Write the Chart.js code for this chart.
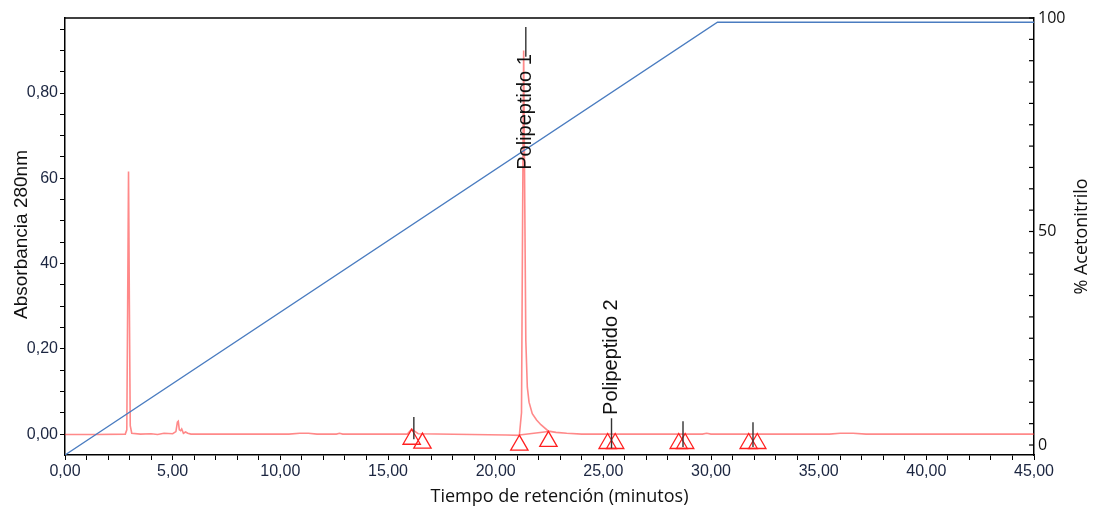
<!DOCTYPE html>
<html>
<head>
<meta charset="utf-8">
<script src="https://cdn.jsdelivr.net/npm/chart.js@4/dist/chart.umd.min.js"></script>
<style>
  body { margin: 0; background: #fff; }
  #wrap { width: 1095px; height: 511px; position: relative; }
</style>
</head>
<body>
<div id="wrap"><canvas id="chrom"></canvas></div>
<script>
// acetonitrile gradient (% , right axis)
var gradientTimes = [0, 30.3, 45];
var gradientValues = [-2.34, 99, 99];

// absorbance trace at 280 nm (left axis)
var absTimes = [0, 1.5, 2.8, 2.87, 2.91, 2.95, 2.99, 3.03, 3.1, 3.5, 4.0, 4.3, 4.6, 5.0, 5.15, 5.22, 5.26, 5.31, 5.37, 5.42, 5.5, 5.6, 5.7, 5.85, 6.2,
  10.4, 10.9, 11.3, 11.7, 12.6, 12.75, 12.9, 15.9, 16.1, 16.2, 16.4, 20.5, 21.1, 21.2, 21.25, 21.3, 21.35, 21.4, 21.47, 21.55, 21.7, 21.9, 22.1,
  22.45, 22.8, 23.3, 24.0, 29.6, 29.8, 30.0, 35.5, 36.0, 36.6, 37.2, 45];
var absValues = [-0.001, -0.001, 0.0, 0.01, 0.3, 0.616, 0.3, 0.02, 0.002, 0.0, 0.001, -0.001, 0.002, 0.001, 0.006, 0.028, 0.03, 0.01, 0.008, 0.012, 0.002, 0.005, 0.002, 0.0, 0.0,
  0.0, 0.002, 0.002, 0.0, 0.0, 0.002, 0.0, 0.0, 0.012, 0.008, 0.001, -0.002, -0.003, 0.05, 0.5, 0.9, 0.55, 0.22, 0.11, 0.075, 0.048, 0.033, 0.022,
  0.007, 0.004, 0.002, 0.0, 0.0, 0.002, 0.0, 0.0, 0.002, 0.002, 0.0, 0.0];

// integration baseline between peak marks
var baseTimes = [21.1, 22.45];
var baseValues = [-0.002, 0.006];

// peak start / end triangles
var triTimes = [16.1, 16.6, 21.1, 22.45, 25.2, 25.55, 28.5, 28.8, 31.75, 32.15];
var triValues = [-0.012, -0.021, -0.026, -0.017, -0.022, -0.022, -0.022, -0.022, -0.022, -0.022];

// apex marks (black)
var markTimes = [16.2, 21.4, 25.38, 28.7, 31.95];
var markTops = [0.04, 0.955, 0.037, 0.03, 0.028];
var markBottoms = [-0.012, 0.885, -0.033, -0.03, -0.03];

// peak names
var peakNames = ['Polipeptido 1', 'Polipeptido 2'];
var peakNameTimes = [21.4, 25.38];
var peakNameStarts = [0.62, 0.045];

// tick labels
var xTickValues = [0, 5, 10, 15, 20, 25, 30, 35, 40, 45];
var xTickLabels = ['0,00', '5,00', '10,00', '15,00', '20,00', '25,00', '30,00', '35,00', '40,00', '45,00'];
var yTickValues = [0, 0.2, 0.4, 0.6, 0.8];
var yTickLabels = ['0,00', '0,20', '40', '60', '0,80'];
var y2TickValues = [0, 50, 100];
var y2TickLabels = ['0', '50', '100'];

function pts(xs, ys) {
  var out = [];
  for (var i = 0; i < xs.length; i++) out.push({x: xs[i], y: ys[i]});
  return out;
}
function findLabel(vals, labels, v) {
  for (var i = 0; i < vals.length; i++) {
    if (Math.abs(vals[i] - v) < 1e-6) return labels[i];
  }
  return '';
}

var markData = [];
for (var i = 0; i < markTimes.length; i++) {
  markData.push({x: markTimes[i], y: markTops[i]});
  markData.push({x: markTimes[i], y: markBottoms[i]});
  markData.push({x: markTimes[i], y: null});
}

var red = 'rgba(255,40,40,0.55)';

var extras = {
  id: 'extras',
  afterDraw: function(chart) {
    var ctx = chart.ctx, a = chart.chartArea;
    var xs = chart.scales.x, ys = chart.scales.y, y2 = chart.scales.y2;
    ctx.save();
    // top frame line
    ctx.strokeStyle = '#000';
    ctx.lineWidth = 1.5;
    ctx.beginPath();
    ctx.moveTo(a.left, a.top);
    ctx.lineTo(a.right, a.top);
    ctx.stroke();
    // inward ticks on right axis
    ctx.lineWidth = 1.2;
    y2.ticks.forEach(function(t) {
      var py = y2.getPixelForValue(t.value);
      ctx.beginPath();
      ctx.moveTo(a.right - 5, py);
      ctx.lineTo(a.right, py);
      ctx.stroke();
    });
    // peak names
    ctx.fillStyle = '#111';
    ctx.font = '20px "Liberation Sans", Arial, sans-serif';
    ctx.textAlign = 'left';
    ctx.textBaseline = 'middle';
    for (var i = 0; i < peakNames.length; i++) {
      ctx.save();
      ctx.translate(xs.getPixelForValue(peakNameTimes[i]), ys.getPixelForValue(peakNameStarts[i]));
      ctx.rotate(-Math.PI / 2);
      ctx.fillText(peakNames[i], 0, 0);
      ctx.restore();
    }
    // axis titles
    var midY = (a.top + a.bottom) / 2;
    ctx.textAlign = 'center';
    ctx.font = '19px "Liberation Sans", Arial, sans-serif';
    ctx.save();
    ctx.translate(a.left - 43, midY - 2);
    ctx.rotate(-Math.PI / 2);
    ctx.fillText('Absorbancia 280nm', 0, 0);
    ctx.restore();
    ctx.font = '18px "Open Sans", sans-serif';
    ctx.save();
    ctx.translate(a.right + 48, midY);
    ctx.rotate(-Math.PI / 2);
    ctx.fillText('% Acetonitrilo', 0, 0);
    ctx.restore();
    ctx.fillText('Tiempo de retención (minutos)', (a.left + a.right) / 2 + 10, a.bottom + 42);
    ctx.restore();
  }
};

new Chart(document.getElementById('chrom'), {
  type: 'line',
  data: {
    datasets: [
      {
        label: 'Acetonitrilo',
        data: pts(gradientTimes, gradientValues),
        yAxisID: 'y2',
        borderColor: '#4a7cc0',
        borderWidth: 1.3,
        pointRadius: 0,
        tension: 0
      },
      {
        label: 'Marcas',
        data: markData,
        yAxisID: 'y',
        borderColor: '#333',
        borderWidth: 1.4,
        pointRadius: 0,
        spanGaps: false
      },
      {
        label: 'Picos',
        data: pts(triTimes, triValues),
        yAxisID: 'y',
        showLine: false,
        pointStyle: 'triangle',
        pointRadius: 10,
        pointBorderColor: '#ff2020',
        pointBackgroundColor: 'rgba(0,0,0,0)',
        pointBorderWidth: 1.3
      },
      {
        label: 'Linea base',
        data: pts(baseTimes, baseValues),
        yAxisID: 'y',
        borderColor: red,
        borderWidth: 1.5,
        pointRadius: 0
      },
      {
        label: 'Absorbancia',
        data: pts(absTimes, absValues),
        yAxisID: 'y',
        borderColor: red,
        borderWidth: 1.6,
        pointRadius: 0,
        tension: 0
      }
    ]
  },
  options: {
    responsive: true,
    maintainAspectRatio: false,
    animation: false,
    layout: { padding: { top: 18, left: 0, right: 0, bottom: 0 } },
    plugins: { legend: { display: false }, tooltip: { enabled: false } },
    scales: {
      x: {
        type: 'linear',
        min: 0,
        max: 45,
        afterFit: function(s) { s.height = 56; },
        border: { color: '#000', width: 1.5 },
        grid: { drawOnChartArea: false, color: '#000', tickLength: 5 },
        ticks: {
          stepSize: 1,
          autoSkip: false,
          maxRotation: 0,
          padding: 2,
          color: '#1b2540',
          font: { family: '"Liberation Sans", Arial, sans-serif', size: 16 },
          callback: function(v) { return findLabel(xTickValues, xTickLabels, v); }
        }
      },
      y: {
        type: 'linear',
        position: 'left',
        min: -0.049,
        max: 0.976,
        afterFit: function(s) { s.width = 65; },
        border: { color: '#000', width: 1.5 },
        grid: { drawOnChartArea: false, color: '#000', tickLength: 5 },
        ticks: {
          stepSize: 0.05,
          includeBounds: false,
          autoSkip: false,
          padding: 2,
          color: '#1b2540',
          font: { family: '"Liberation Sans", Arial, sans-serif', size: 16 },
          callback: function(v) { return findLabel(yTickValues, yTickLabels, v); }
        }
      },
      y2: {
        type: 'linear',
        position: 'right',
        min: -2.34,
        max: 100,
        afterFit: function(s) { s.width = 61; },
        border: { color: '#000', width: 1.5 },
        grid: { drawOnChartArea: false, drawTicks: false },
        ticks: {
          stepSize: 5,
          includeBounds: false,
          autoSkip: false,
          padding: 4,
          color: '#111',
          font: { family: '"Open Sans", sans-serif', size: 16 },
          callback: function(v) { return findLabel(y2TickValues, y2TickLabels, v); }
        }
      }
    }
  },
  plugins: [extras]
});
</script>
</body>
</html>
